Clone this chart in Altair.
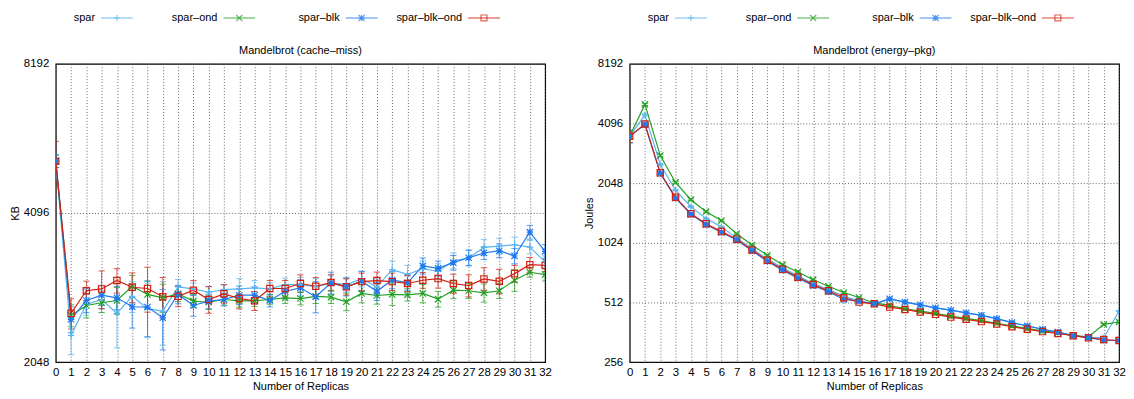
import altair as alt
import pandas as pd

FONT = "Liberation Sans"

x_vals = list(range(33))
series = ["spar", "spar–ond", "spar–blk", "spar–blk–ond"]
colors = ["#5ab4f0", "#22a022", "#1e78f0", "#d02010"]
shapes = [
    "M-1,0L1,0M0,-1L0,1",
    "M-1,-1L1,1M-1,1L1,-1",
    "M-1,0L1,0M0,-1L0,1M-1,-1L1,1M-1,1L1,-1",
    "square",
]

# ---- Mandelbrot (cache-miss), KB ----
cm_spar = [5210, 2320, 2677, 2740, 2569, 2780, 2625, 2596, 2906, 2878, 2834, 2868, 2878, 2892, 2878, 2937, 2937,
           2906, 2960, 2937, 3015, 2906, 3148, 3080, 3160, 3123, 3281, 3322, 3490, 3510, 3533, 3495, 3264]
cm_ond = [5210, 2544, 2665, 2699, 2727, 2914, 2805, 2761, 2813, 2719, 2705, 2740, 2723, 2723, 2740, 2761, 2752,
          2779, 2770, 2711, 2818, 2791, 2805, 2800, 2818, 2744, 2861, 2853, 2826, 2853, 2996, 3109, 3076]
cm_blk = [5210, 2499, 2727, 2795, 2761, 2649, 2645, 2517, 2805, 2665, 2719, 2740, 2795, 2795, 2727, 2847, 2892,
          2775, 2960, 2906, 2982, 2847, 3000, 2960, 3202, 3166, 3251, 3327, 3400, 3437, 3353, 3746, 3426]
cm_blkond = [5210, 2569, 2853, 2878, 2992, 2900, 2883, 2775, 2780, 2861, 2740, 2813, 2752, 2723, 2883, 2883, 2951,
             2914, 2964, 2906, 2977, 2992, 2977, 2951, 2996, 3019, 2951, 2923, 3015, 2982, 3090, 3221, 3210]

cm_spar_err = [150, 200, 130, 120, 380, 200, 330, 380, 100, 80, 70, 70, 140, 100, 80, 90, 100,
               110, 100, 100, 110, 110, 130, 130, 120, 110, 120, 120, 130, 130, 130, 110, 90]
cm_ond_err = [150, 130, 150, 120, 170, 150, 180, 180, 100, 80, 90, 70, 80, 70, 60, 70, 80,
              90, 80, 110, 120, 110, 140, 80, 120, 100, 110, 100, 120, 100, 150, 70, 90]
cm_blk_err = [150, 150, 150, 130, 150, 250, 340, 350, 120, 130, 90, 80, 120, 110, 80, 90, 110,
              200, 150, 120, 140, 120, 120, 100, 120, 110, 110, 120, 100, 110, 120, 120, 110]
cm_blkond_err = [500, 180, 130, 250, 170, 200, 300, 260, 130, 130, 170, 120, 130, 120, 110, 110, 120,
                 120, 110, 110, 120, 120, 120, 110, 110, 130, 130, 150, 160, 170, 120, 110, 90]

# ---- Mandelbrot (energy-pkg), Joules ----
en_spar = [3525, 4528, 2541, 1889, 1557, 1356, 1232, 1081, 955, 848, 765, 697, 638, 595, 551, 520, 504,
           534, 514, 498, 481, 468, 454, 441, 424, 405, 390, 375, 363, 348, 340, 340, 463]
en_ond = [3525, 5110, 2819, 2064, 1689, 1470, 1325, 1136, 997, 885, 794, 730, 667, 618, 575, 542, 509,
          495, 476, 463, 451, 437, 426, 415, 402, 390, 378, 368, 360, 348, 343, 397, 408]
en_blk = [3525, 4040, 2290, 1720, 1425, 1265, 1155, 1058, 932, 826, 745, 678, 623, 580, 530, 520, 504,
          534, 514, 498, 481, 468, 454, 441, 424, 405, 390, 375, 363, 348, 340, 330, 329]
en_blkond = [3525, 4065, 2307, 1736, 1436, 1276, 1166, 1068, 941, 835, 752, 686, 630, 586, 541, 514, 504,
             485, 472, 458, 446, 432, 421, 410, 399, 386, 375, 365, 357, 348, 340, 333, 329]
en_err = [250, 60, 30, 20, 15, 12, 10, 10, 8, 8, 6, 6, 6, 5, 5, 5, 5,
          5, 5, 4, 4, 4, 4, 4, 4, 4, 4, 4, 4, 4, 4, 4, 4]


def long_df(vals_list, errs_list):
    rows = []
    for s, vals, errs in zip(series, vals_list, errs_list):
        for x, v, e in zip(x_vals, vals, errs):
            rows.append(dict(x=x, series=s, value=v, lo=v - e, hi=v + e))
    return pd.DataFrame(rows)


cm_df = long_df([cm_spar, cm_ond, cm_blk, cm_blkond],
                [cm_spar_err, cm_ond_err, cm_blk_err, cm_blkond_err])
en_df = long_df([en_spar, en_ond, en_blk, en_blkond], [en_err, en_err, en_err, en_err])

color_enc = alt.Color("series:N", scale=alt.Scale(domain=series, range=colors), legend=None)
shape_enc = alt.Shape("series:N", scale=alt.Scale(domain=series, range=shapes), legend=None)

PW, PH = 492, 300


def legend_chart():
    ldf = pd.DataFrame({"series": series})
    lx = alt.X("series:N", sort=series, axis=None, scale=alt.Scale(domain=series))
    base = alt.Chart(ldf).encode(x=lx, y=alt.value(8))
    line = base.mark_point(shape="stroke", size=1024, strokeWidth=1.6, opacity=0.55, filled=False).encode(color=color_enc)
    pt = base.mark_point(filled=False, size=36, strokeWidth=1.2).encode(color=color_enc, shape=shape_enc)
    txt = base.mark_text(align="right", dx=-22, fontSize=11, font=FONT, color="black").encode(text="series:N")
    return alt.layer(line, pt, txt).properties(width=PW, height=16, view=alt.ViewBackground(stroke="transparent"))


def panel(df, title, ytitle, ydomain, yticks):
    xs = alt.Scale(domain=[0, 32], nice=False)
    xax = alt.Axis(values=x_vals, title="Number of Replicas", grid=True, ticks=False, domain=False,
                   labelPadding=4, titlePadding=3, format="d", labelFlush=False)
    ys = alt.Scale(type="log", base=2, domain=ydomain, nice=False)
    yax = alt.Axis(values=yticks, title=ytitle, grid=True, ticks=False, domain=False,
                   labelPadding=7, titlePadding=3, format="d")
    x = alt.X("x:Q", scale=xs, axis=xax)
    base = alt.Chart(df)
    rules = base.mark_rule(strokeWidth=1, opacity=0.75, clip=True).encode(
        x=x, y=alt.Y("lo:Q", scale=ys, axis=yax), y2="hi:Q", color=color_enc)
    cap_lo = base.mark_point(shape="stroke", size=40, strokeWidth=1, opacity=0.75, filled=False, clip=True).encode(
        x=x, y=alt.Y("lo:Q", scale=ys, axis=yax), color=color_enc)
    cap_hi = base.mark_point(shape="stroke", size=40, strokeWidth=1, opacity=0.75, filled=False, clip=True).encode(
        x=x, y=alt.Y("hi:Q", scale=ys, axis=yax), color=color_enc)
    lines = base.mark_line(strokeWidth=1.2, clip=True).encode(
        x=x, y=alt.Y("value:Q", scale=ys, axis=yax), color=color_enc, detail="series:N")
    pts = base.mark_point(filled=False, size=40, strokeWidth=1.2, opacity=1, clip=True).encode(
        x=x, y=alt.Y("value:Q", scale=ys, axis=yax), color=color_enc, shape=shape_enc)
    plot = alt.layer(rules, cap_lo, cap_hi, lines, pts).properties(
        width=PW, height=PH,
        title=alt.TitleParams(title, fontSize=11, fontWeight="normal", font=FONT, color="black", offset=2),
    )
    return alt.vconcat(legend_chart(), plot, spacing=17)


left = panel(cm_df, "Mandelbrot (cache–miss)", "KB", [2048, 8192], [2048, 4096, 8192])
right = panel(en_df, "Mandelbrot (energy–pkg)", "Joules", [256, 8192], [256, 512, 1024, 2048, 4096, 8192])

chart = alt.hconcat(left, right, spacing=30).properties(padding=0).configure(font=FONT).configure_axis(
    labelFont=FONT, titleFont=FONT, labelFontSize=11.5, titleFontSize=11, titleFontWeight="normal",
    labelColor="black", titleColor="black", gridColor="#444444", gridDash=[1, 2], gridWidth=0.8, gridOpacity=1,
).configure_view(stroke="black", strokeWidth=1.2)

chart.save("out.html", embed_options={"renderer": "svg", "actions": False})
